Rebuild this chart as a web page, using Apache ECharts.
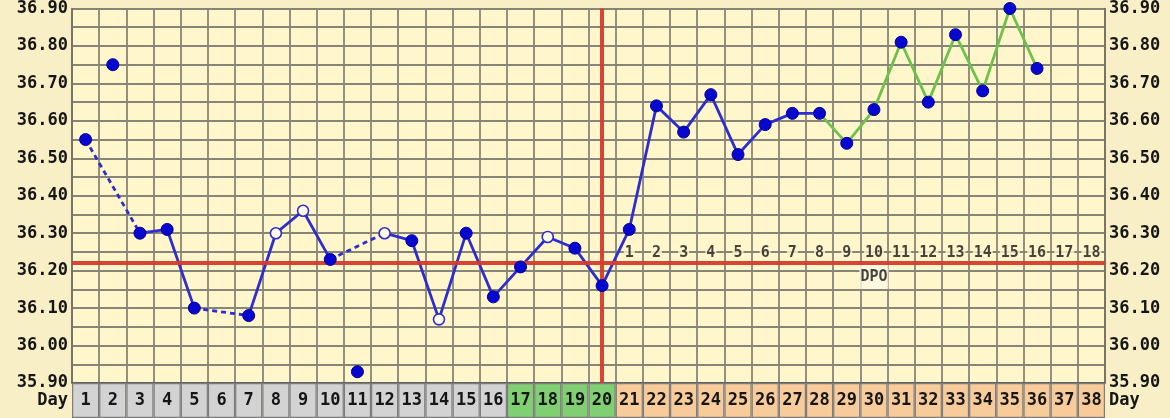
<!DOCTYPE html>
<html>
<head>
<meta charset="utf-8">
<script src="https://cdn.jsdelivr.net/npm/echarts@6/dist/echarts.min.js"></script>
<style>
html,body{margin:0;padding:0;background:#f8efc6;}
#chart{width:1170px;height:418px;}
</style>
</head>
<body>
<div id="chart"></div>
<script>
// ---- data ----
const days = ['1','2','3','4','5','6','7','8','9','10','11','12','13','14','15','16','17','18','19','20',
  '21','22','23','24','25','26','27','28','29','30','31','32','33','34','35','36','37','38'];
const temps = [36.55, 36.75, 36.30, 36.31, 36.10, null, 36.08, 36.30, 36.36, 36.23,
  35.93, 36.30, 36.28, 36.07, 36.30, 36.13, 36.21, 36.29, 36.26, 36.16,
  36.31, 36.64, 36.57, 36.67, 36.51, 36.59, 36.62, 36.62, 36.54, 36.63,
  36.81, 36.65, 36.83, 36.68, 36.90, 36.74, null, null];
const openDays = [8, 9, 12, 14, 18];
const excludedDays = [2, 11];
const greenFromDay = 28;
const coverline = 36.215;
const ovulationDay = '20';
const dpoStartDay = 21;
const dpoLabels = ['1','2','3','4','5','6','7','8','9','10','11','12','13','14','15','16','17','18'];
const dpoTitleDay = '30';
const dayPhase = ['g','g','g','g','g','g','g','g','g','g','g','g','g','g','g','g',
  'f','f','f','f',
  'l','l','l','l','l','l','l','l','l','l','l','l','l','l','l','l','l','l'];
const yTicks = { min: 35.90, max: 36.90, step: 0.05 };

// ---- styles ----
const FONT = 'DejaVu Sans Mono';
const phaseColor = { g: '#d3d3d3', f: '#80cf72', l: '#f8cc9a' };
const BLUE = '#2d2dd0', GREEN = '#6cc24a', RED = '#d83a2c', GRID = '#878577';
const TXT = '#161616';

const valid = (i) => temps[i] != null && excludedDays.indexOf(i + 1) < 0;

const solidBlue = temps.map((v, i) => (valid(i) && i + 1 <= greenFromDay) ? v : null);
const solidGreen = temps.map((v, i) => (valid(i) && i + 1 >= greenFromDay) ? v : null);

const series = [];
series.push({ type: 'line', data: solidBlue, symbol: 'none', connectNulls: false,
  lineStyle: { color: BLUE, width: 2.8 }, z: 4 });
series.push({ type: 'line', data: solidGreen, symbol: 'none', connectNulls: false,
  lineStyle: { color: GREEN, width: 2.8 }, z: 4 });

// dashed bridges over gaps
let prev = -1;
temps.forEach((v, i) => {
  if (!valid(i)) return;
  if (prev >= 0 && i - prev > 1) {
    const d = temps.map((t, j) => (j === prev || j === i) ? t : null);
    series.push({ type: 'line', data: d, symbol: 'none', connectNulls: true,
      lineStyle: { color: BLUE, width: 2.8, type: [5, 4] }, z: 4 });
  }
  prev = i;
});

const filled = [], open = [];
temps.forEach((v, i) => {
  if (v == null) return;
  if (openDays.indexOf(i + 1) >= 0) open.push([days[i], v]);
  else filled.push([days[i], v]);
});

// DPO labels
series.push({ type: 'scatter', symbolSize: 0, z: 5, silent: true,
  data: dpoLabels.map((t, k) => [days[dpoStartDay - 1 + k], 36.247]),
  label: { show: true, position: 'inside', formatter: (p) => dpoLabels[p.dataIndex],
    fontFamily: FONT, fontWeight: 'bold', fontSize: 15, lineHeight: 14, color: TXT,
    backgroundColor: '#fff6cc', padding: [0, 1] } });
series.push({ type: 'scatter', symbolSize: 0, z: 5, silent: true,
  data: [[dpoTitleDay, 36.183]],
  label: { show: true, position: 'inside', formatter: 'DPO',
    fontFamily: FONT, fontWeight: 'bold', fontSize: 15, color: TXT,
    backgroundColor: '#fffbe4', padding: [4, 1, 5, 1] } });

// cover line and ovulation line (above labels, below markers)
series.push({ type: 'line', data: [], z: 6, silent: true,
  markLine: { silent: true, symbol: 'none', label: { show: false },
    lineStyle: { color: RED, width: 4, type: 'solid', opacity: 0.95 },
    data: [{ yAxis: coverline }, { xAxis: ovulationDay }] } });

series.push({ type: 'scatter', data: filled, symbolSize: 12, z: 7,
  itemStyle: { color: '#0707cf', borderColor: '#00009a', borderWidth: 1, opacity: 1 } });
series.push({ type: 'scatter', data: open, symbolSize: 11, z: 7,
  itemStyle: { color: '#fffbe8', borderColor: BLUE, borderWidth: 1.6, opacity: 1 } });

// Day row
series.push({ type: 'bar', xAxisIndex: 1, yAxisIndex: 2, barCategoryGap: '0%', silent: true,
  data: days.map((d, i) => ({ value: 1, itemStyle: { color: phaseColor[dayPhase[i]] } })),
  itemStyle: { borderColor: '#7c7c7c', borderWidth: 1.2 },
  label: { show: true, position: 'inside', formatter: (p) => days[p.dataIndex],
    fontFamily: FONT, fontWeight: 'bold', fontSize: 17, color: TXT } });

const yLabel = { fontFamily: FONT, fontWeight: 'bold', fontSize: 17, color: TXT,
  formatter: (v) => (Math.round(v * 100) % 10 === 0) ? v.toFixed(2) : '' };

const chart = echarts.init(document.getElementById('chart'));
chart.setOption({
  animation: false,
  backgroundColor: '#f8efc6',
  grid: [
    { left: 72, right: 65, top: 3, height: 380, show: true, backgroundColor: '#fff6cc', borderWidth: 0 },
    { left: 72, right: 65, top: 383, height: 35, show: false }
  ],
  xAxis: [
    { type: 'category', data: days, gridIndex: 0, boundaryGap: true,
      axisLabel: { show: false }, axisTick: { show: false },
      axisLine: { show: true, lineStyle: { color: '#555', width: 1.5 } },
      splitLine: { show: true, interval: 0, lineStyle: { color: GRID, width: 1.8 } } },
    { type: 'category', data: days, gridIndex: 1, boundaryGap: true,
      axisLabel: { show: false }, axisTick: { show: false }, axisLine: { show: false } }
  ],
  yAxis: [
    { type: 'value', gridIndex: 0, min: yTicks.min, max: yTicks.max, interval: yTicks.step, position: 'left',
      axisLabel: Object.assign({ margin: 4 }, yLabel), axisTick: { show: false },
      axisLine: { show: true, lineStyle: { color: '#6f6d60', width: 1.5 } },
      splitLine: { show: true, lineStyle: { color: GRID, width: 1.8 } } },
    { type: 'value', gridIndex: 0, min: yTicks.min, max: yTicks.max, interval: yTicks.step, position: 'right',
      axisLabel: Object.assign({ margin: 4 }, yLabel), axisTick: { show: false },
      axisLine: { show: true, lineStyle: { color: '#6f6d60', width: 1.5 } },
      splitLine: { show: false } },
    { type: 'value', gridIndex: 1, min: 0, max: 1, position: 'left',
      axisLabel: { show: false }, axisTick: { show: false }, splitLine: { show: false },
      axisLine: { show: false },
      name: 'Day', nameLocation: 'middle', nameRotate: 0, nameGap: 4,
      nameTextStyle: { fontFamily: FONT, fontWeight: 'bold', fontSize: 17, color: TXT, align: 'right' } },
    { type: 'value', gridIndex: 1, min: 0, max: 1, position: 'right',
      axisLabel: { show: false }, axisTick: { show: false }, splitLine: { show: false },
      axisLine: { show: false },
      name: 'Day', nameLocation: 'middle', nameRotate: 0, nameGap: 4,
      nameTextStyle: { fontFamily: FONT, fontWeight: 'bold', fontSize: 17, color: TXT, align: 'left' } }
  ],
  series: series
});
</script>
</body>
</html>
